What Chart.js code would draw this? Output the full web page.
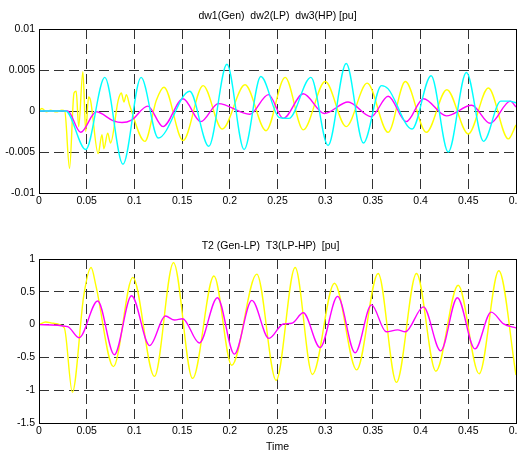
<!DOCTYPE html>
<html>
<head>
<meta charset="utf-8">
<title>Speed and torque deviations</title>
<script src="https://cdn.jsdelivr.net/npm/chart.js@4.4.0/dist/chart.umd.min.js"></script>
<style>
  html, body { margin: 0; padding: 0; background: #fff; overflow: hidden; }
  canvas { position: absolute; left: 0; }
  #speedChart { top: 0; }
  #torqueChart { top: 230px; }
</style>
</head>
<body>
<canvas id="speedChart" width="540" height="225"></canvas>
<canvas id="torqueChart" width="540" height="225"></canvas>
<script>
// time axis ticks [s]
const timeTicks = [0, 0.05, 0.1, 0.15, 0.2, 0.25, 0.3, 0.35, 0.4, 0.45, 0.5];
const speedTicks = [-0.01, -0.005, 0, 0.005, 0.01];
const torqueTicks = [-1.5, -1, -0.5, 0, 0.5, 1];

// dw1 (Gen) [pu]
const dw1Time = [0, 0.003, 0.008, 0.012, 0.018, 0.024, 0.027, 0.032, 0.0367, 0.039, 0.0416, 0.046, 0.049, 0.052, 0.054,
  0.062, 0.066, 0.068, 0.072, 0.075, 0.083, 0.0863, 0.089, 0.0916, 0.095, 0.111, 0.123, 0.131, 0.151, 0.172, 0.192,
  0.216, 0.238, 0.258, 0.277, 0.300, 0.322, 0.344, 0.366, 0.384, 0.406, 0.4275, 0.450, 0.471, 0.492, 0.5];
const dw1 = [0, 0.0003, -0.0001, 0.0001, -0.0001, 0.0001, 0, -0.0070, 0.0022, 0.0024, -0.0019, 0.0048, -0.0025, 0.0017, 0.0013,
  -0.0052, -0.0029, -0.0046, -0.0027, -0.0039, 0.0013, 0.0022, 0.0011, 0.0020, 0.0007, -0.0037, 0.0013, 0.0029, -0.0036, 0.0031, -0.0022,
  0.0032, -0.0024, 0.0041, -0.0023, 0.0036, -0.0019, 0.0034, -0.0026, 0.0036, -0.0026, 0.0026, -0.0028, 0.0028, -0.0034, -0.0017];

// dw2 (LP) [pu]
const dw2Time = [0, 0.030, 0.0437, 0.060, 0.078, 0.087, 0.097, 0.114, 0.130, 0.151, 0.1695, 0.188, 0.221, 0.2405, 0.256,
  0.277, 0.299, 0.324, 0.348, 0.366, 0.385, 0.403, 0.427, 0.4535, 0.473, 0.494, 0.5];
const dw2 = [0, 0, -0.0026, -0.0001, -0.0012, -0.0014, -0.0011, 0.0006, -0.0019, 0.0015, -0.0013, 0.0009, -0.0004, 0.0020, -0.0009,
  0.0021, -0.0003, 0.0011, -0.0007, 0.0018, -0.0013, 0.0015, -0.0006, 0.0007, -0.0015, 0.0012, 0.0005];

// dw3 (HP) [pu]
const dw3Time = [0, 0.028, 0.049, 0.069, 0.088, 0.107, 0.125, 0.158, 0.178, 0.197, 0.215, 0.2325, 0.252, 0.262,
  0.285, 0.303, 0.322, 0.340, 0.359, 0.366, 0.391, 0.411, 0.429, 0.448, 0.466, 0.484, 0.493, 0.5];
const dw3 = [0, 0, -0.0047, 0.0041, -0.0065, 0.0041, -0.0033, 0.0024, -0.0043, 0.0057, -0.0047, 0.0042, -0.0008, -0.0009,
  0.0041, -0.0042, 0.0058, -0.0039, 0.0031, 0.0027, -0.0022, 0.0043, -0.0050, 0.0047, -0.0037, 0.0012, 0.0012, 0.0010];

// T2 (Gen-LP) [pu]
const t2Time = [0, 0.007, 0.015, 0.0265, 0.035, 0.047, 0.0546, 0.0597, 0.078, 0.0983, 0.121, 0.141, 0.161, 0.1834, 0.202,
  0.2283, 0.2486, 0.2685, 0.2866, 0.3097, 0.333, 0.3555, 0.3747, 0.3957, 0.416, 0.4394, 0.4614, 0.482, 0.5];
const t2 = [0, 0.04, 0.02, -0.05, -1.03, 0.45, 0.87, 0.59, -0.64, 0.72, -0.79, 0.945, -0.82, 0.74, -0.62,
  0.77, -0.85, 0.87, -0.76, 0.63, -0.69, 0.78, -0.88, 0.78, -0.71, 0.60, -0.75, 0.82, -0.77];

// T3 (LP-HP) [pu]
const t3Time = [0, 0.030, 0.042, 0.0615, 0.079, 0.097, 0.116, 0.1325, 0.142, 0.1506, 0.168, 0.187, 0.2048, 0.2231, 0.241,
  0.256, 0.265, 0.277, 0.2947, 0.313, 0.3314, 0.3485, 0.364, 0.376, 0.384, 0.403, 0.421, 0.4385, 0.457, 0.474, 0.487, 0.5];
const t3 = [0, -0.03, -0.20, 0.36, -0.46, 0.44, -0.32, 0.13, 0.07, 0.09, -0.28, 0.41, -0.45, 0.37, -0.21,
  0.01, 0.02, 0.18, -0.35, 0.43, -0.43, 0.30, -0.11, -0.08, -0.11, 0.27, -0.40, 0.41, -0.37, 0.19, 0.01, -0.05];

const FONT = '"Liberation Sans", Arial, Helvetica, sans-serif';
const pts = (xs, ys) => xs.map((x, i) => ({ x, y: ys[i] }));

function series(data, color, order) {
    return {
        data,
        borderColor: color,
        borderWidth: 1.4,
        pointRadius: 0,
        fill: false,
        cubicInterpolationMode: 'monotone',
        order
    };
}

// axes box plus the panel title and optional x label
const panelFrame = {
    id: 'panelFrame',
    afterDraw(chart, args, opts) {
        const { ctx, chartArea: a } = chart;
        ctx.save();
        ctx.strokeStyle = '#000';
        ctx.lineWidth = 1;
        ctx.strokeRect(Math.round(a.left) + 0.5, Math.round(a.top) + 0.5,
            Math.round(a.right - a.left), Math.round(a.bottom - a.top));
        ctx.fillStyle = '#000';
        ctx.font = '10.5px ' + FONT;
        ctx.textAlign = 'center';
        ctx.textBaseline = 'middle';
        const cx = (a.left + a.right) / 2;
        ctx.fillText(opts.text, cx + (opts.dx || 0), 16.5);
        if (opts.xLabel) ctx.fillText(opts.xLabel, cx, 217.5);
        ctx.restore();
    }
};

function makeOptions(yTicks, title, dx, xLabel) {
    const tickFont = { family: FONT, size: 10.5 };
    return {
        responsive: false,
        animation: false,
        events: [],
        layout: { padding: { left: 0, right: 24, top: 29, bottom: 12 } },
        plugins: {
            legend: { display: false },
            tooltip: { enabled: false },
            panelFrame: { text: title, dx, xLabel }
        },
        scales: {
            x: {
                type: 'linear',
                min: 0,
                max: 0.5,
                afterBuildTicks: s => { s.ticks = timeTicks.map(v => ({ value: v })); },
                afterFit: s => { s.height = 20; },
                ticks: { color: '#000', font: tickFont, padding: 2, maxRotation: 0, autoSkip: false,
                    callback: v => String(v) },
                grid: { color: '#333', lineWidth: 1, drawTicks: false },
                border: { display: false, dash: [10, 5] }
            },
            y: {
                min: yTicks[0],
                max: yTicks[yTicks.length - 1],
                afterBuildTicks: s => { s.ticks = yTicks.map(v => ({ value: v })); },
                afterFit: s => { s.width = 39; },
                ticks: { color: '#000', font: tickFont, padding: 4, callback: v => String(v) },
                grid: { color: '#333', lineWidth: 1, drawTicks: false },
                border: { display: false, dash: [10, 5] }
            }
        }
    };
}

new Chart(document.getElementById('speedChart'), {
    type: 'line',
    data: {
        datasets: [
            series(pts(dw1Time, dw1), '#ffff00', 2),
            series(pts(dw2Time, dw2), '#ff00ff', 1),
            series(pts(dw3Time, dw3), '#00ffff', 0)
        ]
    },
    options: makeOptions(speedTicks, 'dw1(Gen)  dw2(LP)  dw3(HP) [pu]', 0, null),
    plugins: [panelFrame]
});

new Chart(document.getElementById('torqueChart'), {
    type: 'line',
    data: {
        datasets: [
            series(pts(t2Time, t2), '#ffff00', 1),
            series(pts(t3Time, t3), '#ff00ff', 0)
        ]
    },
    options: makeOptions(torqueTicks, 'T2 (Gen-LP)  T3(LP-HP)  [pu]', -7, 'Time'),
    plugins: [panelFrame]
});
</script>
</body>
</html>
